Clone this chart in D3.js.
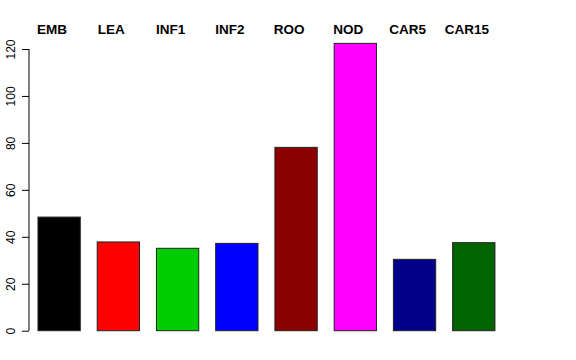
<!DOCTYPE html>
<html>
<head>
<meta charset="utf-8">
<script src="https://cdn.jsdelivr.net/npm/d3@7"></script>
<style>
  body { margin: 0; background: #fff; }
  svg { display: block; font-family: "Liberation Sans", Arial, Helvetica, sans-serif; }
</style>
</head>
<body>
<div id="chart"></div>
<script>
// tissues and their values
var tissues = ["EMB", "LEA", "INF1", "INF2", "ROO", "NOD", "CAR5", "CAR15"];
var values = [48.4, 37.8, 35.1, 37.2, 78.1, 122.4, 30.4, 37.5];
var colors = ["#000000", "#ff0000", "#00cd00", "#0000ff", "#8b0000", "#ff00ff", "#00008b", "#006400"];
var yTicks = [0, 20, 40, 60, 80, 100, 120];

var width = 576, height = 360;

var svg = d3.select("#chart")
  .append("svg")
    .attr("width", width)
    .attr("height", height);

// x: one band per tissue
var x = d3.scaleBand()
  .domain(tissues)
  .range([29.5, 503.4])
  .paddingInner(0.286)
  .paddingOuter(0.143);

// y: linear, 0 at bottom
var y = d3.scaleLinear()
  .domain([0, 120])
  .range([330.7, 49]);

// bars
svg.selectAll("rect.bar")
  .data(tissues)
  .enter()
  .append("rect")
    .attr("class", "bar")
    .attr("x", function(d) { return x(d); })
    .attr("width", x.bandwidth())
    .attr("y", function(d, i) { return y(values[i]); })
    .attr("height", function(d, i) { return y(0) - y(values[i]); })
    .style("fill", function(d, i) { return colors[i]; })
    .style("stroke", "#222")
    .style("stroke-width", 1);

// y axis, R style: rotated labels
var yAxis = svg.append("g")
  .attr("transform", "translate(29,0)")
  .call(d3.axisLeft(y).tickValues(yTicks).tickSize(7).tickPadding(0).tickFormat(d3.format("d")));

yAxis.select(".domain")
  .attr("d", "M0," + y(0) + "V" + y(120))
  .style("stroke", "#000");
yAxis.selectAll(".tick line").style("stroke", "#000");
yAxis.selectAll(".tick text")
  .attr("x", null)
  .attr("dy", null)
  .attr("transform", "translate(-14.5,0) rotate(-90)")
  .attr("text-anchor", "middle")
  .style("font-size", "12px")
  .style("fill", "#000")
  .style("font-family", "'Liberation Sans', Arial, sans-serif");

// tissue names on top
svg.selectAll("text.name")
  .data(tissues)
  .enter()
  .append("text")
    .attr("class", "name")
    .attr("x", function(d) { return x(d) + x.bandwidth() / 2 - 7; })
    .attr("y", 34)
    .attr("text-anchor", "middle")
    .style("font-size", "13.5px")
    .style("font-weight", "bold")
    .text(function(d) { return d; });
</script>
</body>
</html>
